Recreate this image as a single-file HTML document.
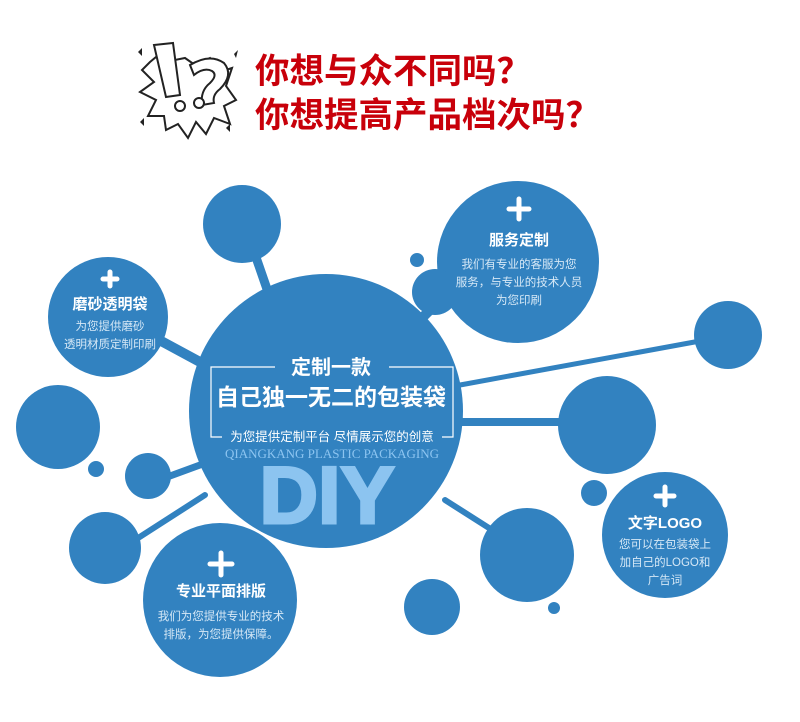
<!DOCTYPE html>
<html><head><meta charset="utf-8"><style>
html,body{margin:0;padding:0;background:#fff;width:800px;height:722px;overflow:hidden}
svg{display:block}
</style></head><body>
<svg width="800" height="722" viewBox="0 0 800 722" xmlns="http://www.w3.org/2000/svg" font-family="'Liberation Sans','Noto Sans CJK SC',sans-serif">
<g stroke="#222" stroke-width="2" fill="#fff">
<polygon points="150,62 162,52 175,60 185,58 195,65 210,58 220,72 232,68 226,86 236,100 224,106 230,124 214,118 206,134 196,122 188,138 178,124 166,130 164,116 148,116 156,100 140,92 154,82 142,70"/>
<polygon points="154,45 173,43 180,95 166,97"/>
<path d="M190,65 q20,-12 34,-2 q10,12 -4,26 q-8,6 -6,14 l-12,2 q-2,-14 8,-22 q8,-8 2,-12 q-8,-4 -18,4 z"/>
<circle cx="180" cy="106" r="5"/><circle cx="199" cy="103" r="5"/>
</g>
<g fill="#222"><polygon points="138,52 142,48 142,56"/><polygon points="234,54 238,50 236,58"/><polygon points="140,122 144,118 144,126"/><polygon points="226,128 230,124 230,132"/></g>
<g fill="#c8000a" font-weight="bold" font-size="34.5" font-family="'Noto Sans CJK SC',sans-serif">
<text x="255" y="83">你想与众不同吗？</text>
<text x="255" y="127">你想提高产品档次吗？</text>
</g>
<g stroke="#3282c0" stroke-linecap="round" fill="none">
<path d="M250,240 L268,292" stroke-width="9"/>
<path d="M150,335 L200,362" stroke-width="10"/>
<path d="M170,476 L200,465" stroke-width="7"/>
<path d="M135,540 L205,495" stroke-width="6"/>
<path d="M440,300 L420,320" stroke-width="10"/>
<path d="M460,385 L700,341" stroke-width="5"/>
<path d="M460,422 L565,422" stroke-width="8"/>
<path d="M445,500 L500,535" stroke-width="6"/>
<path d="M250,560 L240,580" stroke-width="10"/>
</g>
<g fill="#3282c0">
<circle cx="326" cy="411" r="137"/>
<circle cx="242" cy="224" r="39"/>
<circle cx="108" cy="317" r="60"/>
<circle cx="58" cy="427" r="42"/>
<circle cx="96" cy="469" r="8"/>
<circle cx="148" cy="476" r="23"/>
<circle cx="105" cy="548" r="36"/>
<circle cx="220" cy="600" r="77"/>
<circle cx="518" cy="262" r="81"/>
<circle cx="435" cy="292" r="23"/>
<circle cx="417" cy="260" r="7"/>
<circle cx="728" cy="335" r="34"/>
<circle cx="607" cy="425" r="49"/>
<circle cx="594" cy="493" r="13"/>
<circle cx="665" cy="535" r="63"/>
<circle cx="527" cy="555" r="47"/>
<circle cx="554" cy="608" r="6"/>
<circle cx="432" cy="607" r="28"/>
</g>
<rect x="468" y="389" width="90" height="27" rx="8" fill="#fff"/>
<text x="327" y="523" text-anchor="middle" font-size="81" font-weight="700" fill="#8cc4f0" stroke="#8cc4f0" stroke-width="3" font-family="'Liberation Sans',sans-serif">DIY</text>
<g stroke="#fff" stroke-width="1.2" fill="none">
<path d="M275,367 L211,367 L211,437 L222,437"/>
<path d="M389,367 L453,367 L453,437 L442,437"/>
</g>
<g fill="#fff" font-weight="bold" text-anchor="middle">
<text x="331" y="374" font-size="20">定制一款</text>
<text x="331" y="405" font-size="23">自己独一无二的包装袋</text>
<text x="332" y="441" font-size="12.5" font-weight="normal">为您提供定制平台 尽情展示您的创意</text>
</g>
<text x="332" y="458" text-anchor="middle" font-size="13" fill="#8cc4f0" font-family="'Liberation Serif',serif">QIANGKANG PLASTIC PACKAGING</text>
<g stroke="#fff" stroke-width="5" stroke-linecap="round">
<path d="M110,272 v14 M103,279 h14"/>
<path d="M221,553 v22 M210,564 h22"/>
<path d="M519,199 v20 M509,209 h20"/>
<path d="M665,487 v18 M656,496 h18"/>
</g>
<g fill="#fff" text-anchor="middle">
<text x="110" y="309" font-size="15" font-weight="bold">磨砂透明袋</text>
<text x="110" y="330" font-size="11.5" fill="#d6e8f6">为您提供磨砂</text>
<text x="110" y="348" font-size="11.5" fill="#d6e8f6">透明材质定制印刷</text>
<text x="221" y="596" font-size="15" font-weight="bold">专业平面排版</text>
<text x="221" y="620" font-size="11.5" fill="#d6e8f6">我们为您提供专业的技术</text>
<text x="221" y="638" font-size="11.5" fill="#d6e8f6">排版，为您提供保障。</text>
<text x="519" y="245" font-size="15" font-weight="bold">服务定制</text>
<text x="519" y="268" font-size="11.5" fill="#d6e8f6">我们有专业的客服为您</text>
<text x="519" y="286" font-size="11.5" fill="#d6e8f6">服务，与专业的技术人员</text>
<text x="519" y="304" font-size="11.5" fill="#d6e8f6">为您印刷</text>
<text x="665" y="528" font-size="15" font-weight="bold">文字LOGO</text>
<text x="665" y="548" font-size="11.5" fill="#d6e8f6">您可以在包装袋上</text>
<text x="665" y="566" font-size="11.5" fill="#d6e8f6">加自己的LOGO和</text>
<text x="665" y="584" font-size="11.5" fill="#d6e8f6">广告词</text>
</g>
</svg>
</body></html>
